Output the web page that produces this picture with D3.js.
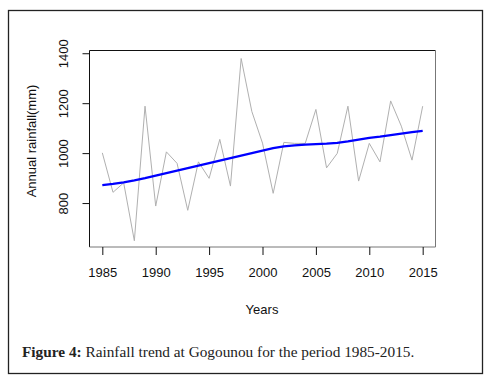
<!DOCTYPE html>
<html>
<head>
<meta charset="utf-8">
<script src="https://cdn.jsdelivr.net/npm/d3@7"></script>
<style>
  body { margin: 0; background: #fff; }
  svg { display: block; }
</style>
</head>
<body>
<div id="chart"></div>
<script>
// data
const years = d3.range(1985, 2016);
const rainfall = [1001, 843, 881, 649, 1188, 788, 1005, 959, 771, 965,
                  899, 1055, 868, 1379, 1167, 1040, 839, 1043, 1039, 1039,
                  1175, 941, 999, 1188, 888, 1039, 965, 1209, 1108, 972, 1188];
const trend = [872, 877, 883, 891, 900, 910, 920, 930, 940, 950,
               960, 970, 980, 990, 1000, 1010, 1020, 1027, 1031, 1034,
               1036, 1038, 1041, 1047, 1054, 1061, 1066, 1072, 1078, 1084, 1089];
const xTicks = [1985, 1990, 1995, 2000, 2005, 2010, 2015];
const yTicks = [800, 1000, 1200, 1400];

const width = 492, height = 379;
const plot = { left: 89.5, right: 435.5, top: 50.5, bottom: 247 };

const svg = d3.select("#chart")
    .append("svg")
    .attr("width", width)
    .attr("height", height);

// outer figure frame
svg.append("rect")
    .attr("x", 8.5).attr("y", 10.5)
    .attr("width", 474).attr("height", 363)
    .attr("fill", "none")
    .attr("stroke", "#222")
    .attr("stroke-width", 1.3);

const x = d3.scaleLinear()
    .domain([1983.8, 2016.2])
    .range([plot.left, plot.right]);

const y = d3.scaleLinear()
    .domain([624, 1411])
    .range([plot.bottom, plot.top]);

// rainfall series
const line = d3.line()
    .x((d, i) => x(years[i]))
    .y(d => y(d));

svg.append("path")
    .datum(rainfall)
    .attr("d", line)
    .attr("fill", "none")
    .attr("stroke", "#b0b0b0")
    .attr("stroke-width", 1);

// trend line
svg.append("path")
    .datum(trend)
    .attr("d", line)
    .attr("fill", "none")
    .attr("stroke", "#0000ff")
    .attr("stroke-width", 2.2);

// plot box
svg.append("path")
    .attr("d", `M${plot.left},${plot.bottom} V${plot.top} H${plot.right}`)
    .attr("fill", "none").attr("stroke", "#111").attr("stroke-width", 1);
svg.append("path")
    .attr("d", `M${plot.left},${plot.bottom} H${plot.right} V${plot.top}`)
    .attr("fill", "none").attr("stroke", "#777").attr("stroke-width", 1);

// x axis
const xAxis = svg.append("g")
    .attr("transform", `translate(0,${plot.bottom})`)
    .call(d3.axisBottom(x).tickValues(xTicks).tickFormat(d3.format("d")).tickSize(8).tickPadding(13));
xAxis.select(".domain").remove();
xAxis.selectAll("line").attr("stroke", "#111");
xAxis.selectAll("text")
    .style("font-family", "Liberation Sans, Arial, sans-serif")
    .style("font-size", "13px")
    .attr("fill", "#111");

// y axis
const yAxis = svg.append("g")
    .attr("transform", `translate(${plot.left},0)`)
    .call(d3.axisLeft(y).tickValues(yTicks).tickSize(7).tickFormat(d3.format("d")));
yAxis.select(".domain").remove();
yAxis.selectAll("line").attr("stroke", "#111");
yAxis.selectAll("text")
    .attr("x", 0).attr("y", 0).attr("dy", null)
    .attr("text-anchor", "middle")
    .attr("transform", "translate(-21.5,0) rotate(-90)")
    .style("font-family", "Liberation Sans, Arial, sans-serif")
    .style("font-size", "13px")
    .attr("fill", "#111");

// axis titles
svg.append("text")
    .attr("x", 262).attr("y", 314)
    .attr("text-anchor", "middle")
    .style("font-family", "Liberation Sans, Arial, sans-serif")
    .style("font-size", "13px")
    .attr("fill", "#111")
    .text("Years");

svg.append("text")
    .attr("transform", "translate(36,141) rotate(-90)")
    .attr("text-anchor", "middle")
    .style("font-family", "Liberation Sans, Arial, sans-serif")
    .style("font-size", "13px")
    .attr("fill", "#111")
    .text("Annual rainfall(mm)");

// caption
const caption = svg.append("text")
    .attr("x", 22).attr("y", 357)
    .style("font-family", "Liberation Serif, serif")
    .style("font-size", "15.3px")
    .attr("fill", "#222");
caption.append("tspan").style("font-weight", "bold").text("Figure 4:");
caption.append("tspan").text(" Rainfall trend at Gogounou for the period 1985-2015.");
</script>
</body>
</html>
